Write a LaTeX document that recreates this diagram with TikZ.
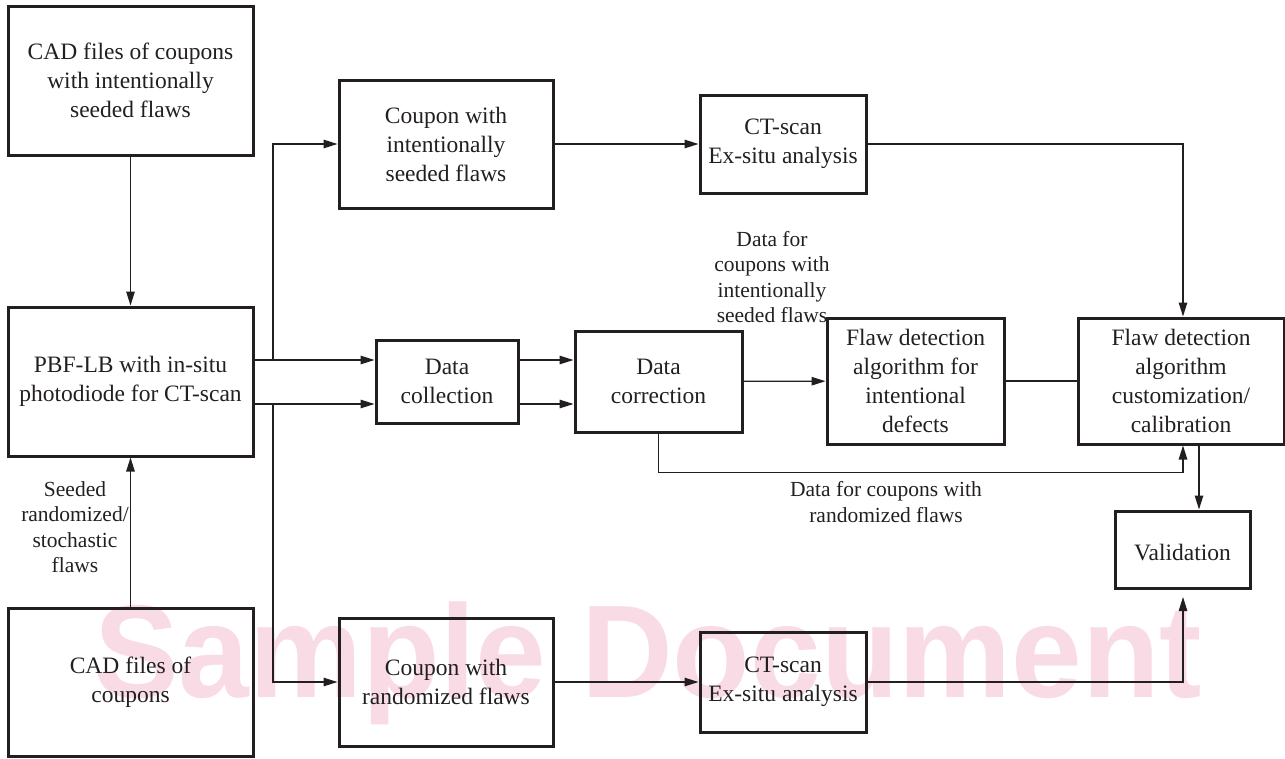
\documentclass[tikz,border=0pt]{standalone}
\usepackage{fontspec}
\setmainfont{Liberation Serif}
\newfontfamily\wmfont{Liberation Sans}
\usetikzlibrary{arrows.meta,calc}
\definecolor{ink}{RGB}{35,31,32}
\definecolor{wmpink}{RGB}{249,219,230}
\tikzset{
  box/.style={draw=ink, line width=3pt, rectangle, align=center, inner sep=2pt,
    font=\fontsize{23.5}{29}\selectfont, text=ink,
    execute at begin node={\rule{0pt}{22.5pt}}},
  lab/.style={align=center, font=\fontsize{21.5}{25.5}\selectfont, text=ink, inner sep=0pt},
  conn/.style={draw=ink, line width=1.2pt},
  arr/.style={conn, -{Triangle[length=14pt,width=8.5pt]}}
}
\begin{document}
\begin{tikzpicture}[x=1pt,y=-1pt]
\useasboundingbox (0,0) rectangle (1285,758);
% watermark
\node[anchor=base west, inner sep=0pt, text=wmpink, font=\wmfont\bfseries\fontsize{127}{127}\selectfont, yscale=1.04] (wm) at (94,697) {Sample Document};
% boxes
\node[box, minimum width=245pt, minimum height=149pt] (cadA) at (130.5,80.5) {CAD files of coupons\\with intentionally\\seeded flaws};
\node[box, minimum width=245pt, minimum height=149pt] (pbf) at (130.5,381.5) {PBF-LB with in-situ\\photodiode for CT-scan};
\node[box, minimum width=245pt, minimum height=148pt] (cadB) at (130.5,682) {CAD files of\\coupons};
\node[box, minimum width=214pt, minimum height=128pt] (coupI) at (446,144) {Coupon with\\intentionally\\seeded flaws};
\node[box, minimum width=166pt, minimum height=98pt] (ctA) at (783,144) {CT-scan\\Ex-situ analysis};
\node[box, minimum width=142pt, minimum height=83pt] (dcol) at (447,381.5) {Data\\collection};
\node[box, minimum width=167pt, minimum height=101pt] (dcor) at (658.5,381.5) {Data\\correction};
\node[box, minimum width=177pt, minimum height=126pt] (fint) at (915.5,381) {Flaw detection\\algorithm for\\intentional\\defects};
\node[box, minimum width=206pt, minimum height=126pt] (fcal) at (1181,381) {Flaw detection\\algorithm\\customization/\\calibration};
\node[box, minimum width=135pt, minimum height=77pt] (val) at (1182.5,549.5) {Validation};
\node[box, minimum width=214pt, minimum height=128pt] (coupR) at (446,682) {Coupon with\\randomized flaws};
\node[box, minimum width=166pt, minimum height=100pt] (ctB) at (783,682) {CT-scan\\Ex-situ analysis};
% labels
\node[lab] (seedlab) at (75,527) {Seeded\\randomized/\\stochastic\\flaws};
\node[lab] (toplab) at (772,277) {Data for\\coupons with\\intentionally\\seeded flaws};
\node[lab] (botlab) at (886,502) {Data for coupons with\\randomized flaws};
% helper coordinates
\coordinate (yU) at (0,360);
\coordinate (yD) at (0,404);
\coordinate (jU) at (273,360);
\coordinate (jD) at (273,404);
\coordinate (xv) at (1199,0);
\coordinate (vin) at (1183,597);
% connectors
\draw[arr] (cadA) -- (pbf);
\draw[arr] (cadB) -- (pbf);
\draw[arr] (pbf.east |- yU) -- (dcol.west |- yU);
\draw[arr] (pbf.east |- yD) -- (dcol.west |- yD);
\draw[arr] (jU) |- (coupI.west);
\draw[arr] (jD) |- (coupR.west);
\draw[arr] (dcol.east |- yU) -- (dcor.west |- yU);
\draw[arr] (dcol.east |- yD) -- (dcor.west |- yD);
\draw[arr] (coupI) -- (ctA);
\draw[arr] (ctA.east) -| ([xshift=2pt]fcal.north);
\draw[arr] (dcor) -- (fint);
\draw[conn] (fint) -- (fcal);
\draw[arr] (dcor.south) -- ++(0,39) -| ([xshift=2pt]fcal.south);
\draw[arr] (fcal.south -| xv) -- (val.north -| xv);
\draw[arr] (coupR) -- (ctB);
\draw[arr] (ctB.east) -| (vin);
\end{tikzpicture}
\end{document}
